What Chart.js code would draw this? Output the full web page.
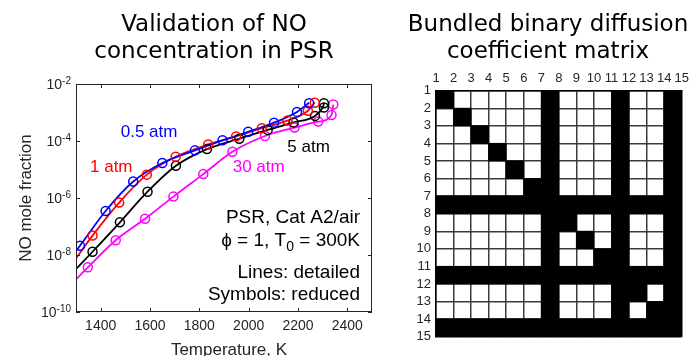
<!DOCTYPE html>
<html><head><meta charset="utf-8">
<script src="https://cdn.jsdelivr.net/npm/chart.js@4.4.0/dist/chart.umd.min.js"></script>
<style>
html,body{margin:0;padding:0;background:#fff;}
#wrap{position:relative;width:696px;height:356px;overflow:hidden;}
#c1{position:absolute;left:0;top:0;}
#c2{position:absolute;left:400px;top:0;}
</style></head><body>
<div id="wrap"><canvas id="c1" width="400" height="356"></canvas><canvas id="c2" width="296" height="356"></canvas></div>
<script>
// ---------- DATA (left chart) ----------
const xTicks = [1400, 1600, 1800, 2000, 2200, 2400];
const yTicks = [1e-10, 1e-8, 1e-6, 1e-4, 1e-2];
const yTickExp = ['-10', '-8', '-6', '-4', '-2'];

// Symbols: reduced mechanism
const tSym05 = [1316, 1420, 1532, 1650, 1782, 1894, 1998, 2103, 2196, 2245];
const vSym05 = [2.1e-8, 3.5e-7, 3.8e-6, 1.7e-5, 4.7e-5, 1.06e-4, 2.1e-4, 4.4e-4, 1.05e-3, 2.1e-3];
const tSym1 = [1367, 1475, 1587, 1704, 1836, 1949, 2053, 2157, 2240, 2268];
const vSym1 = [4.8e-8, 6.9e-7, 6.6e-6, 2.8e-5, 7.6e-5, 1.45e-4, 2.8e-4, 5.2e-4, 1.15e-3, 2.2e-3];
const tSym5 = [1367, 1478, 1590, 1705, 1831, 1962, 2077, 2182, 2269, 2305, 2305];
const vSym5 = [1.3e-8, 1.4e-7, 1.66e-6, 1.35e-5, 5.2e-5, 1.2e-4, 2.45e-4, 4.5e-4, 7.6e-4, 1.5e-3, 2.1e-3];
const tSym30 = [1348, 1461, 1580, 1695, 1816, 1934, 2066, 2186, 2282, 2336, 2343];
const vSym30 = [3.7e-9, 3.3e-8, 1.86e-7, 1.12e-6, 6.9e-6, 4.2e-5, 1.5e-4, 2.95e-4, 4.8e-4, 8.1e-4, 1.9e-3];

// Lines: detailed mechanism
const tLine05 = [1300, 1316, 1420, 1532, 1650, 1782, 1894, 1998, 2103, 2196, 2245];
const vLine05 = [1.4e-8, 2.1e-8, 3.5e-7, 3.8e-6, 1.7e-5, 4.7e-5, 1.06e-4, 2.1e-4, 4.4e-4, 1.05e-3, 2.2e-3];
const tLine1 = [1300, 1367, 1475, 1587, 1704, 1836, 1949, 2053, 2157, 2240, 2268];
const vLine1 = [7.6e-9, 4.8e-8, 6.9e-7, 6.6e-6, 2.8e-5, 7.6e-5, 1.45e-4, 2.8e-4, 5.2e-4, 1.15e-3, 2.3e-3];
const tLine5 = [1300, 1367, 1478, 1590, 1705, 1831, 1962, 2077, 2182, 2269, 2300, 2306];
const vLine5 = [3.2e-9, 1.3e-8, 1.4e-7, 1.66e-6, 1.35e-5, 5.2e-5, 1.2e-4, 2.45e-4, 4.5e-4, 7.6e-4, 1.5e-3, 2.1e-3];
const tLine30 = [1300, 1348, 1461, 1580, 1695, 1816, 1934, 2066, 2186, 2282, 2336, 2343];
const vLine30 = [1.4e-9, 3.7e-9, 3.3e-8, 1.86e-7, 1.12e-6, 6.9e-6, 4.2e-5, 1.5e-4, 2.95e-4, 4.8e-4, 8.1e-4, 1.9e-3];

const seriesNames = ['0.5 atm', '1 atm', '5 atm', '30 atm'];

// ---------- DATA (right chart) ----------
const matrixTicks = [1,2,3,4,5,6,7,8,9,10,11,12,13,14,15];
const matrixRows = [
  "10000010001001",
  "01000010001001",
  "00100010001001",
  "00010010001001",
  "00001010001001",
  "00000110001001",
  "11111111111111",
  "00000011001001",
  "00000010101001",
  "00000010011001",
  "11111111111111",
  "00000010001101",
  "00000010001011",
  "11111111111111"
];

// ---------- helpers ----------
Chart.defaults.font.family = "'Liberation Sans', Arial, sans-serif";
Chart.defaults.color = '#262626';
const pts = (t, v) => t.map((x, i) => ({x: x, y: v[i]}));
const colors = ['#0000ff', '#ff0000', '#000000', '#ff00ff'];
const lines = [[tLine05, vLine05], [tLine1, vLine1], [tLine5, vLine5], [tLine30, vLine30]];
const syms = [[tSym05, vSym05], [tSym1, vSym1], [tSym5, vSym5], [tSym30, vSym30]];

const datasets = [];
lines.forEach((l, k) => datasets.push({
  label: seriesNames[k] + ' detailed', data: pts(l[0], l[1]), showLine: true,
  borderColor: colors[k], borderWidth: 1.8, pointRadius: 0, cubicInterpolationMode: 'monotone', order: 2
}));
syms.forEach((s, k) => datasets.push({
  label: seriesNames[k] + ' reduced', data: pts(s[0], s[1]), showLine: false,
  pointStyle: 'circle', pointRadius: 4.5, pointBorderWidth: 1.5,
  pointBorderColor: colors[k], pointBackgroundColor: 'rgba(0,0,0,0)', order: 1
}));

function textAt(ctx, str, x, y, font, color, align) {
  ctx.font = font; ctx.fillStyle = color; ctx.textAlign = align || 'left'; ctx.textBaseline = 'alphabetic';
  ctx.fillText(str, x, y);
}

const leftDecor = {
  id: 'leftDecor',
  afterDraw(chart) {
    const {ctx, chartArea: a, scales: {x, y}} = chart;
    ctx.save();
    ctx.strokeStyle = '#262626'; ctx.lineWidth = 1;
    ctx.strokeRect(Math.round(a.left) + 0.5, Math.round(a.top) + 0.5, Math.round(a.right - a.left) - 1, Math.round(a.bottom - a.top) - 1);
    const tl = 4;
    ctx.beginPath();
    xTicks.forEach(v => {
      const px = Math.round(x.getPixelForValue(v)) + 0.5;
      ctx.moveTo(px, a.bottom); ctx.lineTo(px, a.bottom - tl);
      ctx.moveTo(px, a.top); ctx.lineTo(px, a.top + tl);
    });
    yTicks.forEach(v => {
      const py = Math.round(y.getPixelForValue(v)) + 0.5;
      ctx.moveTo(a.left, py); ctx.lineTo(a.left + tl, py);
      ctx.moveTo(a.right, py); ctx.lineTo(a.right - tl, py);
    });
    ctx.stroke();
    // y tick labels: 10^exp
    const baseFont = "14px 'Liberation Sans', Arial, sans-serif";
    const supFont = "10px 'Liberation Sans', Arial, sans-serif";
    yTicks.forEach((v, i) => {
      const py = y.getPixelForValue(v);
      const R = a.left - 5;
      ctx.font = supFont; const ws = ctx.measureText(yTickExp[i]).width;
      textAt(ctx, yTickExp[i], R, py - 0.5, supFont, '#262626', 'right');
      textAt(ctx, '10', R - ws, py + 5, baseFont, '#262626', 'right');
    });
    // axis titles
    ctx.save();
    ctx.translate(26, (a.top + a.bottom) / 2);
    ctx.rotate(-Math.PI / 2);
    ctx.font = "17px 'Liberation Sans', Arial, sans-serif"; ctx.fillStyle = '#262626';
    ctx.textAlign = 'center'; ctx.textBaseline = 'middle';
    ctx.fillText('NO mole fraction', 0, 0);
    ctx.restore();
    textAt(ctx, 'Temperature, K', 229, 355, "17px 'Liberation Sans', Arial, sans-serif", '#262626', 'center');
    // title
    const tf = "23px 'DejaVu Sans', Verdana, sans-serif";
    textAt(ctx, 'Validation of NO', 214, 30.5, tf, '#000', 'center');
    textAt(ctx, 'concentration in PSR', 214, 58, tf, '#000', 'center');
    // series labels
    const lf = "17px 'Liberation Sans', Arial, sans-serif";
    textAt(ctx, '0.5 atm', 120.7, 136.7, lf, colors[0]);
    textAt(ctx, '1 atm', 90, 172.3, lf, colors[1]);
    textAt(ctx, '5 atm', 287.3, 151.7, lf, colors[2]);
    textAt(ctx, '30 atm', 232.7, 171.7, lf, colors[3]);
    // info box text
    const bf = "19px 'Liberation Sans', Arial, sans-serif";
    const sf = "14px 'Liberation Sans', Arial, sans-serif";
    const RX = 360;
    textAt(ctx, 'PSR, Cat A2/air', RX, 223, bf, '#000', 'right');
    ctx.font = bf; const w3 = ctx.measureText(' = 300K').width;
    ctx.font = sf; const w2 = ctx.measureText('0').width;
    textAt(ctx, ' = 300K', RX, 246, bf, '#000', 'right');
    textAt(ctx, '0', RX - w3, 250.5, sf, '#000', 'right');
    textAt(ctx, '\u03D5 = 1, T', RX - w3 - w2, 246, bf, '#000', 'right');
    textAt(ctx, 'Lines: detailed', RX, 277.5, bf, '#000', 'right');
    textAt(ctx, 'Symbols: reduced', RX, 299.5, bf, '#000', 'right');
    ctx.restore();
  }
};

new Chart(document.getElementById('c1'), {
  type: 'scatter',
  data: {datasets: datasets},
  options: {
    responsive: false, animation: false, events: [],
    layout: {padding: {left: 0, right: 28, top: 84, bottom: 0}},
    plugins: {legend: {display: false}, tooltip: {enabled: false}},
    scales: {
      x: {
        type: 'linear', min: 1300, max: 2500,
        afterBuildTicks: s => { s.ticks = xTicks.map(v => ({value: v})); },
        afterFit: s => { s.height = 44; },
        grid: {display: false, drawTicks: false, tickLength: 0},
        border: {display: false},
        ticks: {font: {size: 14}, color: '#262626', padding: 6, maxRotation: 0, autoSkip: false,
                callback: v => String(v)}
      },
      y: {
        type: 'logarithmic', min: 1e-10, max: 1e-2,
        afterBuildTicks: s => { s.ticks = yTicks.map(v => ({value: v})); },
        afterFit: s => { s.width = 76; },
        grid: {display: false, drawTicks: false, tickLength: 0},
        border: {display: false},
        ticks: {display: false}
      }
    }
  },
  plugins: [leftDecor]
});

// ---------- matrix ----------
const cells = [];
matrixRows.forEach((row, i) => {
  for (let j = 0; j < row.length; j++) {
    if (row[j] === '1') cells.push({x: matrixTicks[j] + 0.5, y: matrixTicks[i] + 0.5});
  }
});

const rightDecor = {
  id: 'rightDecor',
  afterDraw(chart) {
    const {ctx} = chart;
    ctx.save();
    const tf = "23px 'DejaVu Sans', Verdana, sans-serif";
    textAt(ctx, 'Bundled binary diffusion', 148, 30.5, tf, '#000', 'center');
    textAt(ctx, 'coefficient matrix', 148, 58, tf, '#000', 'center');
    ctx.restore();
  }
};

new Chart(document.getElementById('c2'), {
  type: 'scatter',
  data: {datasets: [{
    label: 'bundled', data: cells, showLine: false, clip: false,
    pointStyle: 'rect', borderWidth: 0, pointBorderWidth: 0,
    pointBackgroundColor: '#000', backgroundColor: '#000',
    pointRadius: ctx => {
      const s = ctx.chart.scales.x;
      return (Math.abs(s.getPixelForValue(2) - s.getPixelForValue(1)) + 1) / Math.SQRT2;
    }
  }]},
  options: {
    responsive: false, animation: false, events: [],
    layout: {padding: {left: 0, right: 14.3, top: 0, bottom: 19.3}},
    plugins: {legend: {display: false}, tooltip: {enabled: false}},
    scales: {
      x: {
        type: 'linear', position: 'top', min: 1, max: 15,
        afterBuildTicks: s => { s.ticks = matrixTicks.map(v => ({value: v})); },
        afterFit: s => { s.height = 90.7; },
        grid: {color: '#3c3c3c', lineWidth: 1.5, drawTicks: false, tickLength: 0},
        border: {display: true, color: '#000', width: 1.5},
        ticks: {font: {size: 13}, color: '#262626', padding: 4, maxRotation: 0, autoSkip: false}
      },
      y: {
        type: 'linear', reverse: true, min: 1, max: 15,
        afterBuildTicks: s => { s.ticks = matrixTicks.map(v => ({value: v})); },
        afterFit: s => { s.width = 36; },
        grid: {color: '#3c3c3c', lineWidth: 1.5, drawTicks: false, tickLength: 0},
        border: {display: true, color: '#000', width: 1.5},
        ticks: {font: {size: 13}, color: '#262626', padding: 5, autoSkip: false}
      }
    }
  },
  plugins: [rightDecor]
});
</script>
</body></html>
